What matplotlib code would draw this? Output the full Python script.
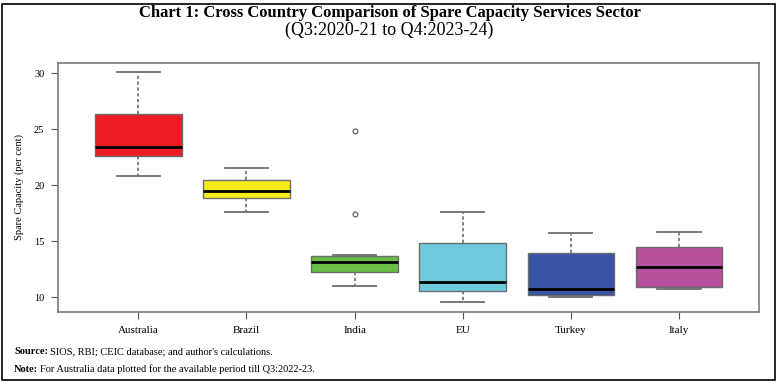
import matplotlib.pyplot as plt
from matplotlib.patches import Rectangle

# Datele (cvartile si mustati)
countries = ["Australia", "Brazil", "India", "EU", "Turkey", "Italy"]
whislo = [20.80, 17.62, 11.04, 9.61, 10.03, 10.71]
q1 = [22.64, 18.84, 12.29, 10.56, 10.20, 10.92]
med = [23.45, 19.46, 13.18, 11.39, 10.71, 12.68]
q3 = [26.37, 20.45, 13.69, 14.85, 13.93, 14.46]
whishi = [30.09, 21.52, 13.78, 17.62, 15.71, 15.83]
outliers = [[], [], [24.85, 17.41], [], [], []]
colors = ["#ED1C24", "#F5EC1B", "#69BD45", "#6DCBDB", "#3A54A5", "#B8509D"]
yticks = [10, 15, 20, 25, 30]

plt.rcParams['font.family'] = ['Liberation Serif', 'DejaVu Serif']

fig = plt.figure(figsize=(7.79, 3.82), dpi=100)
ax = fig.add_axes([58.3 / 779, 1 - 312 / 382, (759 - 58.3) / 779, (312 - 63) / 382])

stats = []
for i in range(len(countries)):
    stats.append(dict(label=countries[i], whislo=whislo[i], q1=q1[i], med=med[i],
                      q3=q3[i], whishi=whishi[i], fliers=outliers[i]))

bp = ax.bxp(stats, positions=range(1, 7), widths=0.8, patch_artist=True,
            showfliers=True,
            boxprops=dict(edgecolor="#6d6d6d", linewidth=1.0),
            medianprops=dict(color="black", linewidth=2.0),
            whiskerprops=dict(color="#6d6d6d", linestyle=(0, (2, 1.5)), linewidth=1.2),
            capprops=dict(color="#6d6d6d", linewidth=1.3),
            flierprops=dict(marker="o", markersize=3.5, markerfacecolor="none",
                            markeredgecolor="#555555", markeredgewidth=0.8))
for patch, c in zip(bp["boxes"], colors):
    patch.set_facecolor(c)
for cap in bp["caps"]:
    x = cap.get_xdata()
    mid = (x[0] + x[1]) / 2
    cap.set_xdata([mid - 0.2, mid + 0.2])

ax.set_xlim(0.26, 6.74)
ax.set_ylim(8.69, 30.92)
ax.set_yticks(yticks)
ax.set_yticklabels([str(t) for t in yticks], fontsize=7.5)
ax.set_xticks(range(1, 7))
ax.set_xticklabels(countries, fontsize=8)
ax.tick_params(axis="x", length=5, color="#555555", pad=5)
ax.tick_params(axis="y", length=5, color="#555555", pad=5)
for s in ax.spines.values():
    s.set_color("#7a7a7a")
    s.set_linewidth(1.2)
ax.set_ylabel("Spare Capacity (per cent)", fontsize=7.5, labelpad=7)

fig.text(0.5, 1 - 13 / 382, "Chart 1: Cross Country Comparison of Spare Capacity Services Sector",
         ha="center", va="center", fontsize=12, fontweight="bold")
fig.text(0.5, 1 - 30 / 382, "(Q3:2020-21 to Q4:2023-24)", ha="center", va="center", fontsize=13)

# Sursa si nota: partea bold separat
renderer = fig.canvas.get_renderer()
for y, bold, rest in [(352, "Source:", "SIOS, RBI; CEIC database; and author's calculations."),
                      (369, "Note:", "For Australia data plotted for the available period till Q3:2022-23.")]:
    t = fig.text(14 / 779, 1 - y / 382, bold, ha="left", va="center", fontsize=7.5, fontweight="bold")
    bb = t.get_window_extent(renderer)
    fig.text((bb.x1 + 2.5) / fig.bbox.width, 1 - y / 382, rest, ha="left", va="center", fontsize=7.5)

fig.patches.append(Rectangle((2 / 779, 2 / 382), 773 / 779, 376 / 382, transform=fig.transFigure,
                             fill=False, edgecolor="black", linewidth=1.2))

plt.savefig("out.png", dpi=100)
